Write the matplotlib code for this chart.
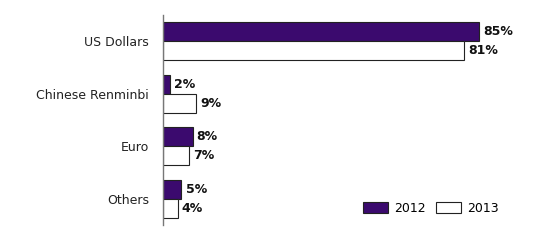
import matplotlib.pyplot as plt
import numpy as np

categories = ["US Dollars", "Chinese Renminbi", "Euro", "Others"]
vals_2012 = [85, 2, 8, 5]
vals_2013 = [81, 9, 7, 4]
years = ["2012", "2013"]

purple = "#3b0a6e"

fig = plt.figure(figsize=(5.5, 2.43), dpi=100)
ax = fig.add_axes([0.296, 0.074, 0.677, 0.864])

y = np.arange(len(categories))
h = 0.36
b1 = ax.barh(y - h / 2, vals_2012, height=h, color=purple, edgecolor="#222222", linewidth=0.8, label=years[0])
b2 = ax.barh(y + h / 2, vals_2013, height=h, color="white", edgecolor="#222222", linewidth=0.8, label=years[1])

# labels to the right of each bar
for bars, vals in [(b1, vals_2012), (b2, vals_2013)]:
    for bar, v in zip(bars, vals):
        ax.text(bar.get_width() + 1.1, bar.get_y() + bar.get_height() / 2, "%d%%" % v,
                va="center", ha="left", fontsize=9, fontweight="bold", color="#111111")

ax.set_ylim(3.5, -0.5)
ax.set_xlim(0, 100)
ax.set_yticks(y)
ax.set_yticklabels(categories, fontsize=9, color="#222222")
ax.tick_params(axis="y", length=0, pad=10)
ax.set_xticks([])
for s in ["top", "right", "bottom"]:
    ax.spines[s].set_visible(False)
ax.spines["left"].set_color("#777777")
ax.spines["left"].set_linewidth(1.0)

fig.legend(loc="center left", bbox_to_anchor=(363 / 550, 1 - 208 / 243), ncol=2, frameon=False,
           handlelength=2.0, handleheight=1.0, columnspacing=0.8,
           handletextpad=0.5, borderpad=0, borderaxespad=0, prop={"size": 9})

plt.savefig("out.png", dpi=100)
